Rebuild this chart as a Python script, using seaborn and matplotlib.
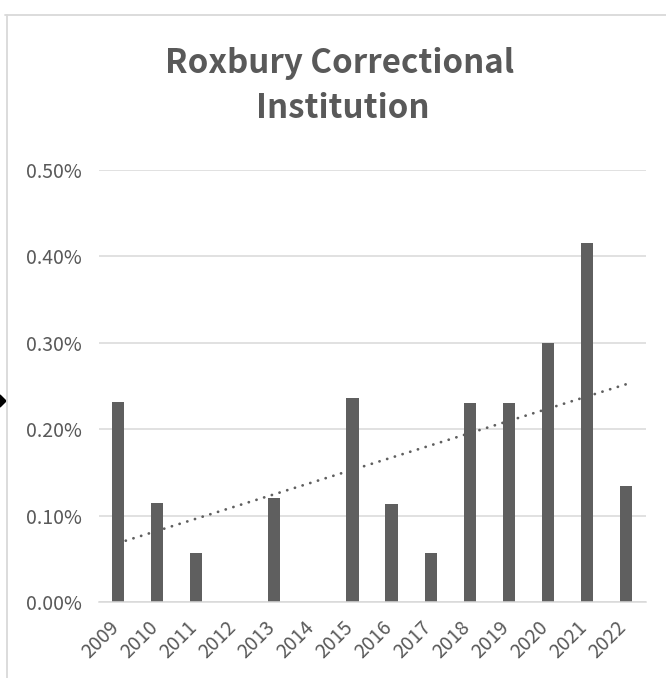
import matplotlib
matplotlib.use("Agg")
import matplotlib.pyplot as plt
import matplotlib.transforms as mtransforms
from matplotlib.lines import Line2D
from matplotlib.patches import Polygon
from matplotlib.ticker import PercentFormatter, MultipleLocator
import seaborn as sns
import numpy as np
import pandas as pd

# ---- data ----
years = ["2009", "2010", "2011", "2012", "2013", "2014", "2015",
         "2016", "2017", "2018", "2019", "2020", "2021", "2022"]
rates = [0.00232, 0.00115, 0.00057, 0.0, 0.00120, 0.0, 0.00236,
         0.00114, 0.00057, 0.00230, 0.00230, 0.00300, 0.00416, 0.00134]
title_lines = ["Roxbury Correctional", "Institution"]

W, H, DPI = 666, 678, 100
TXT = "#595959"
GRID = "#d9d9d9"
BAR = "#5f5f5f"

sns.set_theme(style="white")
plt.rcParams['font.family'] = ['Noto Sans CJK SC', 'DejaVu Sans']

fig = plt.figure(figsize=(W / DPI, H / DPI), dpi=DPI)
ax = fig.add_axes([98.5 / W, (H - 602) / H, 547 / W, 432 / H])

df = pd.DataFrame({"year": years, "rate": rates})
sns.barplot(data=df, x="year", y="rate", color=BAR, saturation=1,
            width=0.31, ax=ax, edgecolor="none", zorder=2)

# linear trendline
xpos = np.arange(len(years))
coef = np.polyfit(xpos, rates, 1)
ax.plot(xpos, np.polyval(coef, xpos), color=BAR, lw=2.0,
        linestyle=(0, (0.05, 2.85)), dash_capstyle="round", zorder=3)

ax.set_xlim(-0.5, len(years) - 0.5)
ax.set_ylim(0, 0.005)
ax.yaxis.set_major_locator(MultipleLocator(0.001))
ax.yaxis.set_major_formatter(PercentFormatter(xmax=1, decimals=2))
ax.yaxis.grid(True, color=GRID, lw=1.1)
ax.xaxis.grid(False)
ax.set_axisbelow(True)
for s in ["left", "right", "top"]:
    ax.spines[s].set_visible(False)
ax.spines["bottom"].set_color(GRID)
ax.spines["bottom"].set_linewidth(1.1)
ax.set_xlabel("")
ax.set_ylabel("")
ax.tick_params(axis="both", length=0, labelcolor=TXT, labelsize=14)
ax.tick_params(axis="y", pad=12)
ax.tick_params(axis="x", pad=11)
off = mtransforms.ScaledTranslation(5 / DPI, 0, fig.dpi_scale_trans)
for lab in ax.get_xticklabels():
    lab.set_rotation(45)
    lab.set_ha("right")
    lab.set_transform(lab.get_transform() + off)

# title
fig.text(340 / W, 1 - 73 / H, title_lines[0], ha="center", va="baseline",
         fontsize=23.8, color=TXT, fontweight="bold")
fig.text(343 / W, 1 - 118 / H, title_lines[1], ha="center", va="baseline",
         fontsize=23.8, color=TXT, fontweight="bold")

# chart-area border and selection marker
fig.add_artist(Line2D([5 / W, 1], [1 - 15 / H, 1 - 15 / H], color=GRID, lw=1.3))
fig.add_artist(Line2D([6.5 / W, 6.5 / W], [0, 1 - 15 / H], color=GRID, lw=1.3))
fig.add_artist(Polygon([(0, 1 - 395 / H), (6 / W, 1 - 401 / H), (0, 1 - 407 / H)],
                       closed=True, color="black", transform=fig.transFigure))

fig.savefig("out.png", dpi=DPI)
